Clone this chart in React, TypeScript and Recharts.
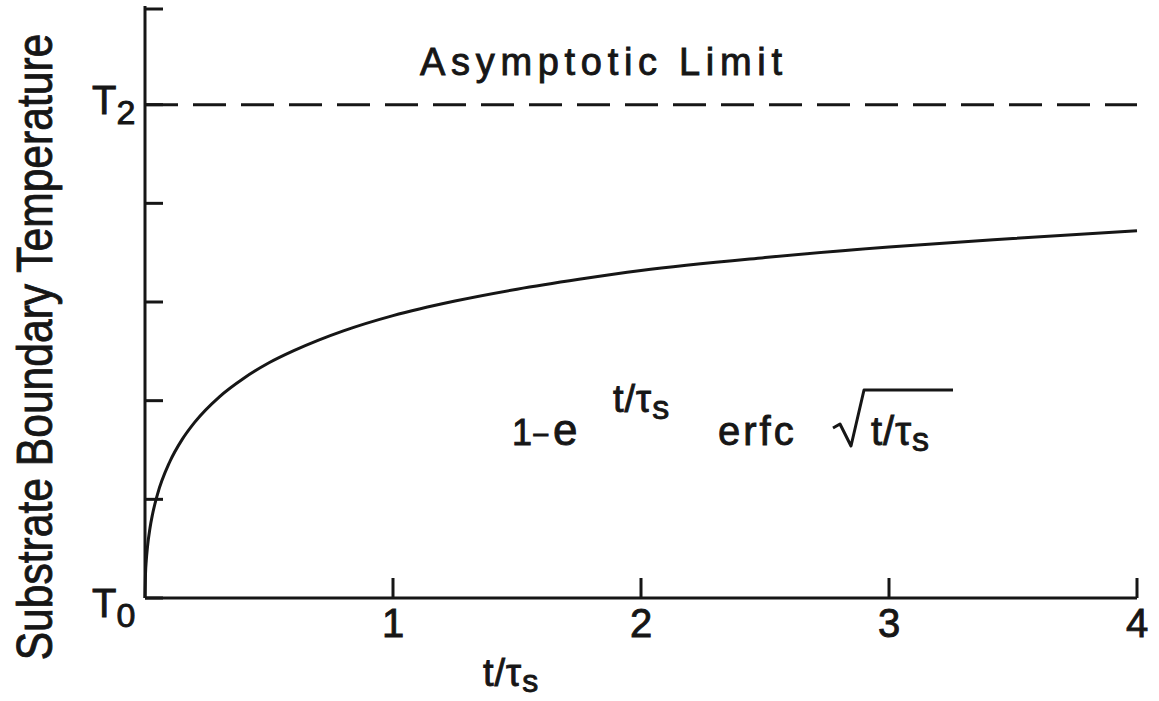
import React from "react";
import {
  LineChart,
  Line,
  XAxis,
  YAxis,
  ReferenceLine,
  Customized,
} from "recharts";

// t / tau_s along the curve and the matching boundary temperature rise,
// as a fraction of (T2 - T0)
const tRatio = [
  0, 0.002, 0.005, 0.01, 0.02, 0.03, 0.05, 0.1, 0.15, 0.2, 0.3, 0.4, 0.5, 0.6,
  0.7, 0.8, 1, 1.25, 1.5, 1.75, 2, 2.5, 3, 3.5, 4,
];
const boundaryTemp = [
  0, 0.0485, 0.0751, 0.1036, 0.1415, 0.1689, 0.2096, 0.2762, 0.3216, 0.3561,
  0.4079, 0.446, 0.4768, 0.5014, 0.5228, 0.5415, 0.5724, 0.6019, 0.6259, 0.646,
  0.6638, 0.6901, 0.7116, 0.7288, 0.7446,
];

const xTicks = [1, 2, 3, 4];
const yTicks = [0, 0.2, 0.4, 0.6, 0.8, 1.0, 1.2];
// T with its subscript, keyed by tick value
const yTickLabels: Record<number, [string, string]> = {
  0: ["T", "0"],
  1: ["T", "2"],
};
const asymptote = 1;

const INK = "#161616";
const FONT = "'Liberation Sans', Arial, sans-serif";
// slightly heavier lettering than the plain regular weight
const inkText = { fill: INK, stroke: INK, strokeWidth: 0.9, fontFamily: FONT };

const chartData = tRatio.map((t, i) => ({ t, temp: boundaryTemp[i] }));

// inward tick marks on the y axis, label only at T0 / T2
const YTick = (props: any) => {
  const { x, y, payload } = props;
  const label = yTickLabels[payload.value];
  const base = payload.value === 0 ? 19 : 9;
  return (
    <g>
      <line x1={x} y1={y} x2={x + 18} y2={y} stroke={INK} strokeWidth={3} />
      {label && (
        <text x={x - 53} y={y + base} fontSize={40} {...inkText}>
          {label[0]}
          <tspan dy={10} fontSize={34}>
            {label[1]}
          </tspan>
        </text>
      )}
    </g>
  );
};

// upward tick marks on the x axis, number below the line
const XTick = (props: any) => {
  const { x, y, payload } = props;
  return (
    <g>
      <line x1={x} y1={y} x2={x} y2={y - 20} stroke={INK} strokeWidth={3} />
      <text x={x} y={y + 39} textAnchor="middle" fontSize={40} {...inkText}>
        {payload.value}
      </text>
    </g>
  );
};

const Annotations = () => (
  <g>
    <text
      x={420}
      y={75}
      fontSize={38}
      textLength={362}
      lengthAdjust="spacing"
      {...inkText}
    >
      Asymptotic Limit
    </text>

    {/* 1 - e^(t/tau_s) erfc sqrt(t/tau_s) */}
    <text x={512} y={445} fontSize={36} {...inkText}>
      1<tspan fontSize={30}>−</tspan>
    </text>
    <text x={553} y={445} fontSize={44} {...inkText}>
      e
    </text>
    <text x={613} y={412} fontSize={38} letterSpacing={1} {...inkText}>
      t/τ
      <tspan dy={7} fontSize={34}>
        s
      </tspan>
    </text>
    <text x={718} y={445} fontSize={40} letterSpacing={3} {...inkText}>
      erfc
    </text>
    <path
      d="M833 428 L840 424 L851 446 L864 390 L953 390"
      fill="none"
      stroke={INK}
      strokeWidth={3}
      strokeLinejoin="round"
    />
    <text x={871} y={445} fontSize={40} letterSpacing={1} {...inkText}>
      t/τ
      <tspan dy={6} fontSize={34}>
        s
      </tspan>
    </text>

    {/* axis titles */}
    <text x={483} y={686} fontSize={38} letterSpacing={1} {...inkText}>
      t/τ
      <tspan dy={6} fontSize={32}>
        s
      </tspan>
    </text>
    {/* condensed vertical title */}
    <g transform="translate(52, 347) rotate(-90) scale(0.852, 1)">
      <text x={0} y={0} fontSize={50} textAnchor="middle" {...inkText}>
        Substrate Boundary Temperature
      </text>
    </g>
  </g>
);

export default function App() {
  return (
    <div
      style={{
        position: "absolute",
        left: 0,
        top: 0,
        width: 1159,
        height: 701,
        background: "#fff",
      }}
    >
      <LineChart
        width={1159}
        height={701}
        data={chartData}
        margin={{ top: 6, right: 22, left: 85, bottom: 63 }}
      >
        <XAxis
          dataKey="t"
          type="number"
          domain={[0, 4]}
          ticks={xTicks}
          height={40}
          tickSize={0}
          tickMargin={0}
          tickLine={false}
          tick={<XTick />}
          axisLine={{ stroke: INK, strokeWidth: 3 }}
        />
        <YAxis
          type="number"
          domain={[0, 1.2]}
          ticks={yTicks}
          width={60}
          tickSize={0}
          tickMargin={0}
          tickLine={false}
          tick={<YTick />}
          axisLine={{ stroke: INK, strokeWidth: 3 }}
        />
        <ReferenceLine
          y={asymptote}
          stroke={INK}
          strokeWidth={3}
          strokeDasharray="33 15"
        />
        <Line
          type="monotone"
          dataKey="temp"
          stroke={INK}
          strokeWidth={3}
          dot={false}
          isAnimationActive={false}
        />
        <Customized component={Annotations} />
      </LineChart>
    </div>
  );
}
